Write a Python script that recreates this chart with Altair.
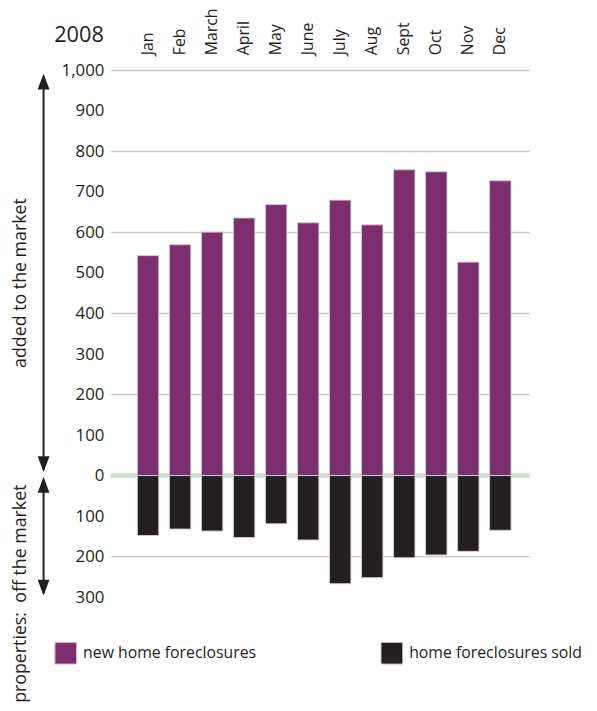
import altair as alt
import pandas as pd

months = ["Jan", "Feb", "March", "April", "May", "June", "July", "Aug", "Sept", "Oct", "Nov", "Dec"]
new_foreclosures = [543, 570, 601, 636, 669, 624, 680, 619, 755, 750, 527, 728]
sold_foreclosures = [148, 132, 137, 153, 119, 159, 267, 252, 203, 196, 187, 135]
series_names = ["new home foreclosures", "home foreclosures sold"]
series_colors = ["#7B2F6E", "#231F20"]
y_ticks = [-300, -200, -100, 0, 100, 200, 300, 400, 500, 600, 700, 800, 900, 1000]
grid_values = [-200, 200, 400, 600, 800, 1000]
zero_value = [0]
year_label = ["2008"]
upper_label = ["added to the market"]
lower_label = ["properties:\u00a0 off the market"]

FONT = "Open Sans"
INK = "#231F20"
W, H = 432, 533

rows = []
for m, a, s in zip(months, new_foreclosures, sold_foreclosures):
    rows.append({"month": m, "series": series_names[0], "value": a})
    rows.append({"month": m, "series": series_names[1], "value": -s})
df = pd.DataFrame(rows)

yscale = alt.Scale(domain=[-300, 1000], nice=False, zero=False)
yaxis = alt.Axis(title=None, values=y_ticks, grid=False, ticks=False,
                 domain=False, labelPadding=7, labelFontSize=17,
                 labelFont=FONT, labelColor=INK,
                 labelExpr="format(abs(datum.value), ',')")

grid = alt.Chart(pd.DataFrame({"value": grid_values})).mark_rule(
    color="#c9c9c9", strokeWidth=1.5
).encode(
    y=alt.Y("value:Q", scale=yscale, axis=yaxis),
    x=alt.value(0), x2=alt.value(424),
)

zero = alt.Chart(pd.DataFrame({"value": zero_value})).mark_rule(
    color="#d3e1cf", strokeWidth=5
).encode(
    y=alt.Y("value:Q", scale=yscale, axis=yaxis),
    x=alt.value(0), x2=alt.value(424),
)

bars = alt.Chart(df).mark_bar(stroke="#d6c8d3", strokeWidth=1).encode(
    x=alt.X("month:N", sort=months,
            scale=alt.Scale(paddingInner=0.33, paddingOuter=0.83),
            axis=alt.Axis(orient="top", title=None, labelAngle=-90, labelAlign="left",
                          labelBaseline="middle", labelPadding=16, ticks=False,
                          domain=False, labelFontSize=16, labelFont=FONT,
                          labelColor=INK)),
    y=alt.Y("value:Q", scale=yscale, axis=yaxis),
    color=alt.Color("series:N", scale=alt.Scale(domain=series_names, range=series_colors),
                    legend=alt.Legend(title=None, orient="none", legendX=-57, legendY=578,
                                      direction="horizontal", columns=2, columnPadding=123,
                                      symbolType="square", symbolSize=484,
                                      symbolStrokeColor="#d6c8d3", symbolStrokeWidth=1,
                                      labelFontSize=16, labelFont=FONT, labelColor=INK,
                                      labelOffset=6, labelLimit=400, padding=0)),
)

year = alt.Chart(pd.DataFrame({"t": year_label})).mark_text(
    align="right", baseline="middle", fontSize=22, font=FONT, color=INK
).encode(x=alt.value(-7), y=alt.value(-36), text="t:N")

up_text = alt.Chart(pd.DataFrame({"t": upper_label})).mark_text(
    align="left", baseline="middle", angle=270, fontSize=18, font=FONT, color=INK
).encode(x=alt.value(-91), y=alt.value(301), text="t:N")

low_text = alt.Chart(pd.DataFrame({"t": lower_label})).mark_text(
    align="left", baseline="middle", angle=270, fontSize=18, font=FONT, color=INK
).encode(x=alt.value(-91), y=alt.value(640), text="t:N")

one = pd.DataFrame({"k": [0]})
UP = "M0,-1L0.75,1L-0.75,1Z"
DOWN = "M0,1L0.75,-1L-0.75,-1Z"


def shaft(y1, y2):
    return alt.Chart(one).mark_rule(color=INK, strokeWidth=2).encode(
        x=alt.value(-68), y=alt.value(y1), y2=alt.value(y2))


def head(shape, yc):
    return alt.Chart(one).mark_point(shape=shape, size=256, filled=True, color=INK,
                                     opacity=1, strokeWidth=0).encode(
        x=alt.value(-68), y=alt.value(yc))


arrows = [shaft(6, 404), head(UP, 11.3), head(DOWN, 398.3),
          shaft(414, 529), head(UP, 419.3), head(DOWN, 523.3)]

chart = alt.layer(grid, zero, bars, year, up_text, low_text, *arrows).properties(
    width=W, height=H,
    autosize=alt.AutoSizeParams(type="none"),
    padding={"left": 104, "top": 59, "right": 52, "bottom": 111},
).configure(font=FONT, view=alt.ViewConfig(stroke=None))

chart.save("out.html", embed_options={"renderer": "svg", "actions": False})
